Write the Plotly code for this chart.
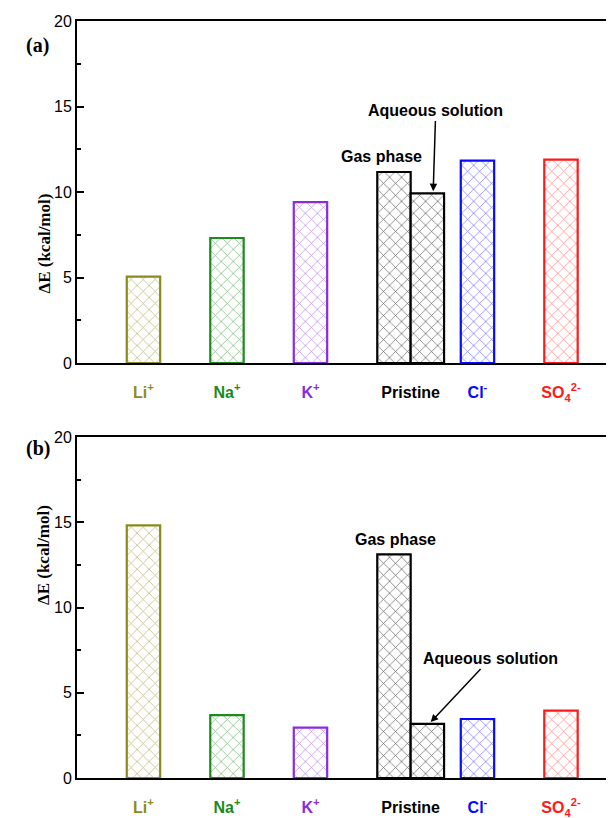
import plotly.graph_objects as go

# ---- data ----
categories = ["Li+", "Na+", "K+", "Pristine (gas phase)", "Pristine (aqueous solution)", "Cl-", "SO4 2-"]
x_pos = [1, 2, 3, 4, 4.4, 5, 6]
values_a = [5.05, 7.31, 9.41, 11.17, 9.92, 11.83, 11.89]
values_b = [14.82, 3.69, 2.95, 13.12, 3.17, 3.46, 3.95]
bar_colors = ["#8c8a1e", "#1c8a1c", "#8a2be2", "#000000", "#000000", "#0a0aff", "#ff1a1a"]
hatch_colors = ["#a09e4a", "#4a9e4a", "#a066e6", "#333333", "#333333", "#4a4aff", "#ff5a5a"]
tick_pos = [1, 2, 3, 4.2, 5, 6]
tick_labels = ["Li<sup>+</sup>", "Na<sup>+</sup>", "K<sup>+</sup>", "Pristine", "Cl<sup>-</sup>", "SO<sub>4</sub><sup>2-</sup>"]
tick_colors = ["#8c8a1e", "#1c8a1c", "#8a2be2", "#000000", "#0a0aff", "#ff1a1a"]
y_ticks = [0, 5, 10, 15, 20]

# page body has an 8px margin; the figure fills the rest of the 614x818 window
OFF = 8
W, H = 614 - OFF, 818 - OFF


def px(xp):
    return (xp - OFF) / W


def py(yp):
    return 1 - (yp - OFF) / H


ticktext = [f"<span style='color:{c}'><b>{t}</b></span>" for t, c in zip(tick_labels, tick_colors)]

fig = go.Figure()
for vals, xa, ya in [(values_a, "x", "y"), (values_b, "x2", "y2")]:
    fig.add_trace(go.Bar(
        x=x_pos, y=vals, xaxis=xa, yaxis=ya, width=0.4,
        marker=dict(color="white",
                    line=dict(color=bar_colors, width=2.2),
                    pattern=dict(shape="x", fgcolor=hatch_colors, bgcolor="white",
                                 size=8.5, solidity=0.15, fgopacity=0.8)),
        showlegend=False, hoverinfo="skip"))

xdom = [px(77), 1]
dom_a = [py(363), py(21)]
dom_b = [py(778), py(437)]

xcommon = dict(range=[0.204, 6.635], showline=True, linecolor="black", linewidth=2,
               mirror=True, showgrid=False, zeroline=False, automargin=False,
               tickvals=tick_pos, ticktext=ticktext, ticks="outside", ticklen=14,
               tickcolor="rgba(0,0,0,0)",
               tickfont=dict(family="Liberation Sans, Arial", size=16, color="black"))
ycommon = dict(range=[0, 20], showline=True, linecolor="black", linewidth=2,
               showgrid=False, zeroline=False, tickvals=y_ticks, automargin=False,
               ticks="inside", ticklen=7, tickwidth=2, tickcolor="black",
               minor=dict(dtick=2.5, ticks="inside", ticklen=4, tickwidth=2, tickcolor="black"),
               tickprefix="<b>", ticksuffix="</b>",
               tickfont=dict(family="Liberation Sans, Arial", size=16, color="black"))
rcommon = dict(range=[0, 20], side="right", showline=False, showgrid=False, zeroline=False,
               tickvals=[5, 10, 15], ticks="inside", ticklen=7, tickwidth=2, tickcolor="#777",
               showticklabels=False, automargin=False)

fig.update_layout(
    width=W, height=H, margin=dict(l=0, r=0, t=0, b=0, autoexpand=False),
    plot_bgcolor="white", paper_bgcolor="white",
    xaxis=dict(domain=xdom, anchor="y", **xcommon),
    yaxis=dict(domain=dom_a, anchor="x", **ycommon),
    xaxis2=dict(domain=xdom, anchor="y2", **xcommon),
    yaxis2=dict(domain=dom_b, anchor="x2", **ycommon),
    yaxis3=dict(overlaying="y", anchor="x", **rcommon),
    yaxis4=dict(overlaying="y2", anchor="x2", **rcommon),
)

bold = dict(family="Liberation Sans, Arial", size=16, color="black")
serif = dict(family="Liberation Serif, Times New Roman", size=17, color="black")
ann = [
    # panel a
    dict(x=3.85, y=12.1, xref="x", yref="y", text="<b>Gas phase</b>", showarrow=False, font=bold),
    dict(x=4.47, y=10.05, xref="x", yref="y", ax=4.5, ay=14.74, axref="x", ayref="y",
         text="<b>Aqueous solution</b>", showarrow=True, arrowhead=2, arrowsize=1, arrowwidth=1.5,
         arrowcolor="black", font=bold),
    # panel b
    dict(x=4.02, y=14.0, xref="x2", yref="y2", text="<b>Gas phase</b>", showarrow=False, font=bold),
    dict(x=4.44, y=3.28, xref="x2", yref="y2", ax=5.15, ay=6.98, axref="x2", ayref="y2",
         text="<b>Aqueous solution</b>", showarrow=True, arrowhead=2, arrowsize=1, arrowwidth=1.5,
         arrowcolor="black", font=bold),
    # panel labels
    dict(x=px(24), y=py(32), xref="paper", yref="paper", text="<b>(a)</b>", showarrow=False,
         font=dict(family="Liberation Serif, Times New Roman", size=20, color="black")),
    dict(x=px(24), y=py(448), xref="paper", yref="paper", text="<b>(b)</b>", showarrow=False,
         font=dict(family="Liberation Serif, Times New Roman", size=20, color="black")),
    # y titles
    dict(x=px(32), y=sum(dom_a) / 2, xref="paper", yref="paper", text="<b>ΔE (kcal/mol)</b>",
         showarrow=False, textangle=-90, font=serif),
    dict(x=px(32), y=sum(dom_b) / 2, xref="paper", yref="paper", text="<b>ΔE (kcal/mol)</b>",
         showarrow=False, textangle=-90, font=serif),
]
fig.update_layout(annotations=ann)

fig.write_html("out.html")
